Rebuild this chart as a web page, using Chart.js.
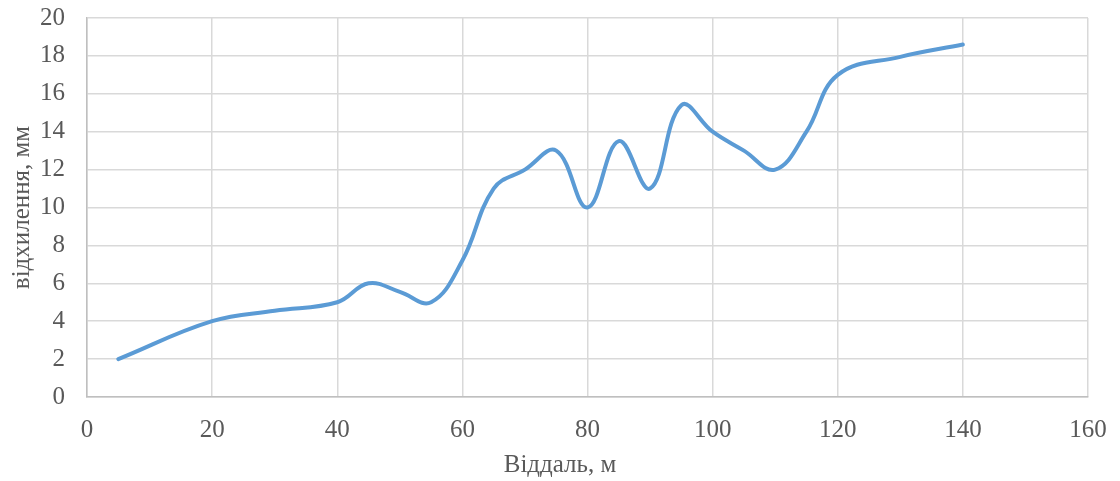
<!DOCTYPE html>
<html>
<head>
<meta charset="utf-8">
<script src="https://cdn.jsdelivr.net/npm/chart.js@4"></script>
<style>
  html, body { margin: 0; padding: 0; background: #fff; }
  #wrap { width: 1120px; height: 481px; }
</style>
</head>
<body>
<div id="wrap"><canvas id="chart" width="1120" height="481"></canvas></div>
<script>
// відхилення від віддалі
const distances = [5, 20, 30, 40, 45, 50, 55, 60, 65, 70, 75, 80, 85, 90, 95, 100, 105, 110, 115, 120, 130, 140];
const deviations = [2, 4, 4.55, 5, 6, 5.55, 5, 7.2, 11, 12, 13, 10, 13.5, 11, 15.4, 14, 13, 12, 14, 17, 17.95, 18.6];
const xTitle = 'Віддаль, м';
const yTitle = 'відхилення, мм';

const font = { family: '"Liberation Serif", "Times New Roman", serif', size: 25 };
const txt = '#595959';

new Chart(document.getElementById('chart').getContext('2d'), {
    type: 'scatter',
    data: {
        datasets: [{
            data: distances.map((d, i) => ({ x: d, y: deviations[i] })),
            showLine: true,
            borderColor: '#5b9bd5',
            borderWidth: 4,
            pointRadius: 0,
            tension: 0.4,
            borderCapStyle: 'round',
            borderJoinStyle: 'round',
        }],
    },
    options: {
        responsive: false,
        animation: false,
        layout: { padding: 0 },
        plugins: {
            legend: { display: false },
            tooltip: { enabled: false },
            // x title is centred on the whole canvas in the original
            title: { display: true, position: 'bottom', text: xTitle, color: txt, font: { ...font, weight: 'normal' }, padding: { top: 0, bottom: 1 } },
        },
        scales: {
            x: {
                type: 'linear', min: 0, max: 160,
                ticks: { stepSize: 20, color: txt, font, padding: 18, maxRotation: 0 },
                grid: { color: '#d9d9d9', lineWidth: 1.5, drawTicks: false },
                border: { color: '#bfbfbf', width: 1.5 },
                afterFit: a => { a.height = 53; a.paddingLeft = 0; a.paddingRight = 32; },
            },
            y: {
                min: 0, max: 20,
                ticks: { stepSize: 2, color: txt, font, padding: 22 },
                grid: { color: '#d9d9d9', lineWidth: 1.5, drawTicks: false },
                border: { color: '#bfbfbf', width: 1.5 },
                title: { display: true, text: yTitle, color: txt, font, padding: { top: 7, bottom: 0 } },
                afterFit: a => { a.width = 87; a.paddingTop = 18; a.paddingBottom = 0; },
            },
        },
    },
});
</script>
</body>
</html>
